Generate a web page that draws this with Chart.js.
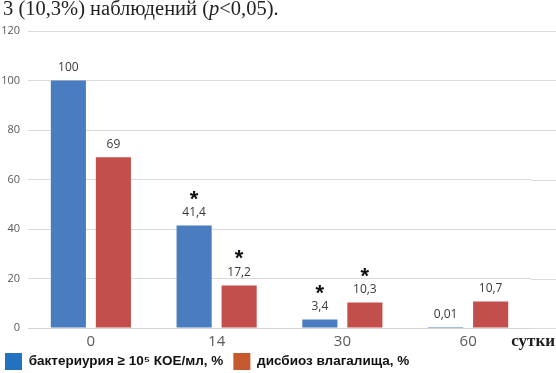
<!DOCTYPE html>
<html>
<head>
<meta charset="utf-8">
<script src="https://cdn.jsdelivr.net/npm/chart.js@4.4.0/dist/chart.umd.min.js"></script>
<style>
  html, body { margin: 0; padding: 0; background: #fff; }
  #wrap { position: relative; width: 556px; height: 373px; }
  #note {
    position: absolute; left: 3px; top: -3px;
    font: 20.5px "Liberation Serif", serif; color: #222; white-space: nowrap;
  }
  canvas { position: absolute; left: 0; top: 0; }
</style>
</head>
<body>
<div id="wrap">
  <canvas id="myChart" width="556" height="373"></canvas>
  <div id="note">3 (10,3%) наблюдений (<i>p</i>&lt;0,05).</div>
</div>
<script>
// days after start
const days = ['0', '14', '30', '60'];
const bacteriuria = [100, 41.4, 3.4, 0.01];
const dysbiosis = [69, 17.2, 10.3, 10.7];
// * = p<0,05
const bacteriuriaStar = [false, true, true, false];
const dysbiosisStar = [false, true, true, false];
const seriesNames = ['бактериурия ≥ 10⁵ КОЕ/мл, %', 'дисбиоз влагалища, %'];
const barColors = ['#4a7dbf', '#c24f4b'];
const legendColors = ['#2471c0', '#c45a2e'];
const yMin = 0, yMax = 120, yStep = 20;
const xUnit = 'сутки';

const fmt = (v) => String(v).replace('.', ',');

const valueLabels = {
    id: 'value_labels',
    afterDatasetsDraw: (chart) => {
        const ctx = chart.ctx;
        const stars = [bacteriuriaStar, dysbiosisStar];
        ctx.save();
        chart.data.datasets.forEach((ds, di) => {
            const meta = chart.getDatasetMeta(di);
            meta.data.forEach((bar, i) => {
                ctx.textAlign = 'center';
                ctx.textBaseline = 'middle';
                ctx.fillStyle = '#3a3a3a';
                ctx.font = '12px "Open Sans"';
                ctx.fillText(fmt(ds.data[i]), bar.x, bar.y - 13);
                if (stars[di][i]) {
                    ctx.fillStyle = '#111';
                    ctx.font = 'bold 22px "Liberation Sans"';
                    ctx.textBaseline = 'alphabetic';
                    ctx.fillText('*', bar.x, bar.y - 20);
                }
            });
        });
        ctx.restore();
    }
};

// grid lines run on past the last category, the unit sits at the right end,
// and the legend is pulled up under the tick labels
const extras = {
    id: 'extras',
    afterLayout: (chart) => {
        chart.legend.top -= 13;
        chart.legend.bottom -= 13;
    },
    beforeDatasetsDraw: (chart) => {
        const ctx = chart.ctx;
        const y = chart.scales.y;
        ctx.save();
        ctx.strokeStyle = '#dadada';
        ctx.lineWidth = 1;
        y.ticks.forEach((t) => {
            const py = Math.round(y.getPixelForValue(t.value)) + 0.5;
            ctx.beginPath();
            ctx.moveTo(chart.chartArea.right, py);
            ctx.lineTo(chart.width, py);
            ctx.stroke();
        });
        ctx.restore();
    },
    afterDraw: (chart) => {
        const ctx = chart.ctx;
        const x = chart.scales.x;
        ctx.save();
        ctx.font = 'bold 17px "Liberation Serif"';
        ctx.fillStyle = '#1e1e1e';
        ctx.textAlign = 'right';
        ctx.textBaseline = 'middle';
        ctx.fillText(xUnit, chart.width - 1, x.top + 14);
        ctx.restore();
    }
};

const ctx = document.getElementById('myChart').getContext('2d');

const init = () => {
    new Chart(ctx, {
        type: 'bar',
        plugins: [extras, valueLabels],
        data: {
            labels: days,
            datasets: [{
                label: seriesNames[0],
                data: bacteriuria,
                backgroundColor: barColors[0]
            }, {
                label: seriesNames[1],
                data: dysbiosis,
                backgroundColor: barColors[1]
            }]
        },
        options: {
            responsive: false,
            animation: false,
            categoryPercentage: 0.716,
            barPercentage: 0.78,
            layout: { padding: { top: 31, left: -5, right: 25, bottom: -20 } },
            plugins: {
                tooltip: { enabled: false },
                legend: {
                    position: 'bottom',
                    align: 'start',
                    labels: {
                        boxWidth: 17,
                        boxHeight: 17,
                        padding: 10,
                        color: '#111',
                        font: { family: 'Liberation Sans', size: 13.5, weight: 'bold' },
                        generateLabels: (chart) => {
                            const items = Chart.defaults.plugins.legend.labels.generateLabels(chart);
                            items.forEach((it, i) => {
                                it.fillStyle = legendColors[i];
                                it.strokeStyle = legendColors[i];
                                it.lineWidth = 0;
                            });
                            return items;
                        }
                    }
                }
            },
            scales: {
                x: {
                    grid: { display: false, drawTicks: false },
                    border: { color: '#d4d4d4' },
                    ticks: {
                        color: '#595959',
                        padding: 5,
                        font: { family: 'Open Sans', size: 15 }
                    }
                },
                y: {
                    min: yMin,
                    max: yMax,
                    border: { display: false },
                    grid: { color: '#dadada', drawTicks: false },
                    ticks: {
                        stepSize: yStep,
                        color: '#595959',
                        padding: 8,
                        font: { family: 'Open Sans', size: 11 }
                    },
                    afterFit: (scale) => { scale.width = 33; }
                }
            }
        }
    });
};

init();
</script>
</body>
</html>
